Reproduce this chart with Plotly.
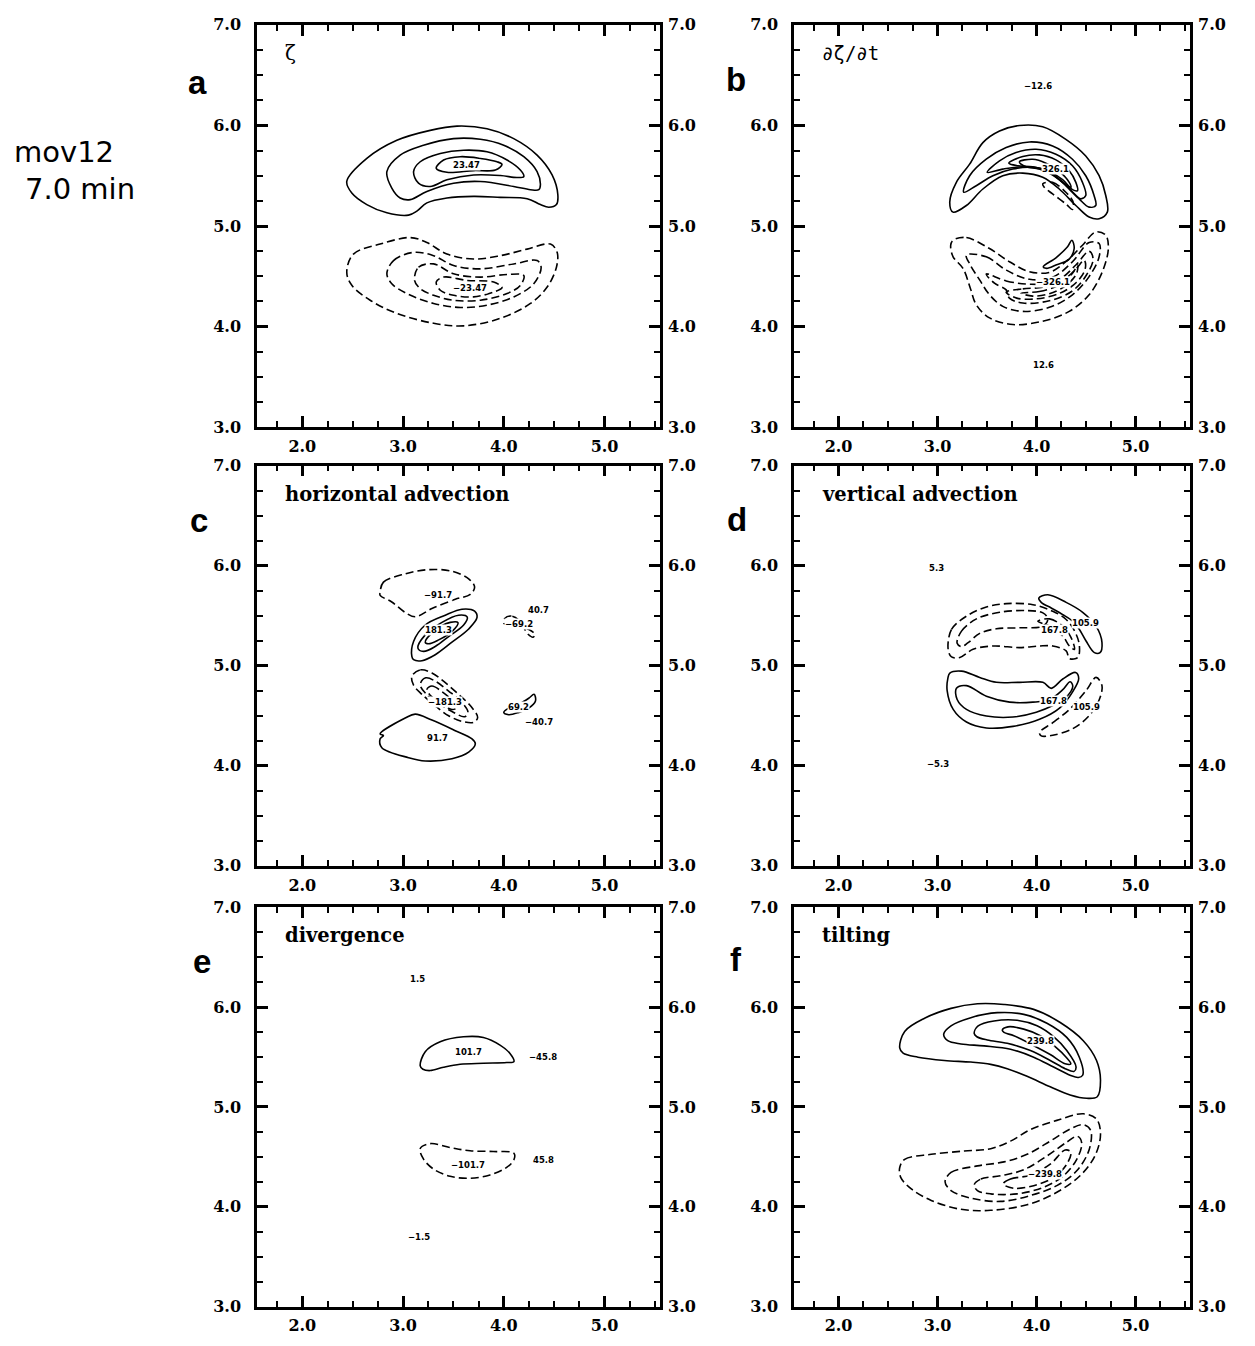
import plotly.graph_objects as go

# ---------------- data: contour polylines (x, y) ----------------
# panel a : zeta
a_pos1 = [(2.441, 5.443), (2.640, 5.672), (2.938, 5.852), (3.269, 5.951), (3.535, 5.993), (3.833, 5.967),
          (4.098, 5.869), (4.330, 5.705), (4.479, 5.508), (4.536, 5.311), (4.522, 5.213), (4.446, 5.187),
          (4.363, 5.213), (4.231, 5.272), (3.966, 5.285), (3.700, 5.295), (3.435, 5.279), (3.236, 5.230),
          (3.137, 5.148), (3.054, 5.108), (2.839, 5.131), (2.640, 5.213), (2.491, 5.328)]
a_pos2 = [(2.839, 5.541), (2.971, 5.705), (3.203, 5.803), (3.501, 5.869), (3.767, 5.862), (3.999, 5.803),
          (4.198, 5.689), (4.330, 5.541), (4.363, 5.410), (4.347, 5.361), (4.264, 5.361), (4.098, 5.393),
          (3.767, 5.443), (3.501, 5.426), (3.236, 5.344), (3.071, 5.262), (2.971, 5.279), (2.888, 5.377)]
a_pos3 = [(3.104, 5.541), (3.170, 5.639), (3.369, 5.721), (3.601, 5.754), (3.833, 5.738), (4.032, 5.656),
          (4.164, 5.557), (4.198, 5.492), (4.131, 5.482), (3.966, 5.502), (3.700, 5.508), (3.435, 5.459),
          (3.269, 5.393), (3.153, 5.426)]
a_pos4 = [(3.329, 5.574), (3.402, 5.656), (3.568, 5.689), (3.767, 5.672), (3.932, 5.639), (3.982, 5.613),
          (3.916, 5.557), (3.700, 5.551), (3.435, 5.534)]
a_neg1 = [(2.441, 4.541), (2.507, 4.721), (2.772, 4.820), (3.071, 4.885), (3.236, 4.836), (3.435, 4.721),
          (3.700, 4.672), (3.966, 4.705), (4.231, 4.770), (4.463, 4.820), (4.529, 4.738), (4.522, 4.590),
          (4.430, 4.393), (4.264, 4.230), (3.966, 4.082), (3.601, 4.007), (3.303, 4.033), (2.938, 4.131),
          (2.673, 4.262), (2.491, 4.410)]
a_neg2 = [(2.839, 4.525), (2.905, 4.656), (3.104, 4.738), (3.303, 4.705), (3.501, 4.607), (3.767, 4.574),
          (4.098, 4.623), (4.330, 4.656), (4.370, 4.590), (4.297, 4.426), (4.098, 4.295), (3.833, 4.213),
          (3.568, 4.190), (3.303, 4.230), (3.037, 4.328), (2.888, 4.426)]
a_neg3 = [(3.114, 4.459), (3.153, 4.590), (3.303, 4.623), (3.501, 4.525), (3.767, 4.492), (4.032, 4.518),
          (4.198, 4.508), (4.164, 4.410), (4.032, 4.328), (3.767, 4.262), (3.501, 4.262), (3.303, 4.311),
          (3.170, 4.377)]
a_neg4 = [(3.329, 4.443), (3.402, 4.492), (3.634, 4.459), (3.899, 4.443), (3.982, 4.387), (3.899, 4.344),
          (3.700, 4.295), (3.501, 4.311), (3.369, 4.361)]
a_labels = [("23.47", 3.634, 5.607), ("\u221223.47", 3.667, 4.387)]

# panel b : d zeta / dt
b_pos1 = [(3.157, 5.138), (3.123, 5.237), (3.190, 5.434), (3.324, 5.615), (3.458, 5.829), (3.626, 5.944),
          (3.827, 6.000), (4.062, 5.987), (4.296, 5.862), (4.497, 5.697), (4.632, 5.500), (4.699, 5.303),
          (4.715, 5.138), (4.632, 5.072), (4.531, 5.089), (4.397, 5.204), (4.229, 5.368), (4.062, 5.484),
          (3.861, 5.526), (3.659, 5.500), (3.458, 5.368), (3.291, 5.204)]
b_pos2 = [(3.264, 5.336), (3.324, 5.500), (3.492, 5.664), (3.693, 5.780), (3.928, 5.836), (4.162, 5.796),
          (4.363, 5.664), (4.497, 5.500), (4.581, 5.303), (4.598, 5.204), (4.531, 5.188), (4.430, 5.270),
          (4.296, 5.401), (4.129, 5.533), (3.961, 5.582), (3.760, 5.566), (3.559, 5.500), (3.391, 5.401)]
b_pos3 = [(3.502, 5.533), (3.626, 5.648), (3.793, 5.730), (3.995, 5.763), (4.196, 5.714), (4.363, 5.599),
          (4.464, 5.434), (4.497, 5.303), (4.447, 5.270), (4.363, 5.336), (4.229, 5.467), (4.062, 5.566),
          (3.861, 5.589), (3.659, 5.566)]
b_pos4 = [(3.720, 5.625), (3.861, 5.691), (4.028, 5.707), (4.196, 5.658), (4.330, 5.549), (4.397, 5.434),
          (4.414, 5.352), (4.363, 5.362), (4.263, 5.461), (4.129, 5.543), (3.961, 5.589), (3.810, 5.599)]
b_pos5 = [(3.827, 5.638), (3.961, 5.664), (4.095, 5.625), (4.229, 5.543), (4.330, 5.434), (4.347, 5.385),
          (4.280, 5.424), (4.162, 5.507), (4.028, 5.566), (3.894, 5.589)]
b_pos6 = [(4.068, 4.595), (4.196, 4.684), (4.313, 4.793), (4.357, 4.859), (4.380, 4.776), (4.330, 4.671),
          (4.196, 4.612), (4.102, 4.579)]
b_neg0 = [(4.062, 5.418), (4.162, 5.434), (4.296, 5.336), (4.370, 5.237), (4.363, 5.164), (4.296, 5.220),
          (4.162, 5.319), (4.078, 5.385)]
b_neg1 = [(3.157, 4.859), (3.291, 4.885), (3.525, 4.776), (3.726, 4.645), (3.928, 4.546), (4.129, 4.539),
          (4.296, 4.645), (4.464, 4.809), (4.598, 4.941), (4.699, 4.908), (4.725, 4.776), (4.665, 4.546),
          (4.531, 4.316), (4.330, 4.151), (4.062, 4.053), (3.760, 4.020), (3.525, 4.086), (3.391, 4.217),
          (3.331, 4.382), (3.257, 4.579), (3.157, 4.694), (3.133, 4.809)]
b_neg2 = [(3.291, 4.711), (3.492, 4.694), (3.693, 4.562), (3.928, 4.470), (4.162, 4.490), (4.363, 4.645),
          (4.531, 4.836), (4.632, 4.826), (4.632, 4.694), (4.531, 4.497), (4.363, 4.316), (4.129, 4.191),
          (3.861, 4.151), (3.659, 4.201), (3.525, 4.316), (3.425, 4.464), (3.331, 4.612)]
b_neg3 = [(3.492, 4.523), (3.693, 4.454), (3.928, 4.421), (4.196, 4.447), (4.397, 4.612), (4.531, 4.750),
          (4.571, 4.671), (4.504, 4.513), (4.363, 4.355), (4.129, 4.257), (3.861, 4.234), (3.726, 4.283),
          (3.693, 4.365), (3.575, 4.431)]
b_neg4 = [(3.693, 4.342), (3.861, 4.375), (4.062, 4.391), (4.263, 4.457), (4.397, 4.572), (4.481, 4.661),
          (4.491, 4.572), (4.404, 4.441), (4.236, 4.332), (4.001, 4.276), (3.800, 4.283)]
b_neg5 = [(3.844, 4.332), (4.028, 4.349), (4.229, 4.414), (4.363, 4.530), (4.414, 4.612), (4.404, 4.526),
          (4.296, 4.408), (4.129, 4.326), (3.961, 4.303)]
b_labels = [("326.1", 4.196, 5.566), ("\u2212326.1", 4.162, 4.441), ("\u221212.6", 4.011, 6.388),
            ("12.6", 4.068, 3.618)]

# panel c : horizontal advection
c_pos1 = [(3.087, 5.093), (3.104, 5.242), (3.220, 5.407), (3.419, 5.505), (3.584, 5.565), (3.710, 5.545),
          (3.734, 5.482), (3.651, 5.367), (3.485, 5.235), (3.319, 5.110), (3.187, 5.050), (3.104, 5.060)]
c_pos2 = [(3.147, 5.176), (3.220, 5.308), (3.386, 5.433), (3.551, 5.505), (3.637, 5.486), (3.601, 5.407),
          (3.452, 5.291), (3.319, 5.192), (3.203, 5.143)]
c_pos3 = [(3.220, 5.235), (3.303, 5.341), (3.468, 5.433), (3.545, 5.430), (3.485, 5.341), (3.353, 5.258),
          (3.253, 5.219)]
c_pos4 = [(3.120, 4.516), (3.286, 4.457), (3.518, 4.351), (3.684, 4.269), (3.717, 4.220), (3.651, 4.137),
          (3.485, 4.071), (3.220, 4.048), (3.054, 4.081), (2.789, 4.180), (2.772, 4.269), (2.805, 4.302),
          (2.772, 4.319), (3.021, 4.477)]
c_pos5 = [(3.999, 4.533), (4.048, 4.576), (4.148, 4.615), (4.247, 4.675), (4.300, 4.714), (4.314, 4.648),
          (4.247, 4.576), (4.148, 4.533), (4.048, 4.510)]
c_neg1 = [(2.772, 5.736), (2.805, 5.835), (3.021, 5.918), (3.253, 5.960), (3.485, 5.944), (3.651, 5.868),
          (3.710, 5.786), (3.667, 5.713), (3.518, 5.664), (3.286, 5.571), (3.120, 5.489), (3.021, 5.532),
          (2.888, 5.637), (2.772, 5.703)]
c_neg2 = [(3.087, 4.895), (3.170, 4.958), (3.286, 4.928), (3.419, 4.830), (3.551, 4.714), (3.677, 4.589),
          (3.740, 4.483), (3.700, 4.434), (3.584, 4.444), (3.452, 4.500), (3.319, 4.599), (3.187, 4.714),
          (3.104, 4.806)]
c_neg3 = [(3.170, 4.813), (3.226, 4.879), (3.319, 4.846), (3.452, 4.747), (3.584, 4.632), (3.644, 4.533),
          (3.611, 4.490), (3.485, 4.543), (3.353, 4.622), (3.237, 4.708)]
c_neg4 = [(3.237, 4.764), (3.286, 4.797), (3.386, 4.741), (3.492, 4.648), (3.535, 4.582), (3.485, 4.562),
          (3.386, 4.622), (3.286, 4.688)]
c_neg5 = [(4.148, 5.456), (4.075, 5.496), (4.009, 5.472), (3.999, 5.423), (4.082, 5.413), (4.181, 5.387),
          (4.274, 5.347), (4.307, 5.314), (4.290, 5.285), (4.241, 5.314)]
c_labels = [("\u221291.7", 3.346, 5.710), ("181.3", 3.353, 5.357), ("\u2212181.3", 3.419, 4.638),
            ("91.7", 3.346, 4.279), ("\u221269.2", 4.154, 5.413), ("40.7", 4.347, 5.561),
            ("69.2", 4.148, 4.589), ("\u221240.7", 4.353, 4.434)]

# panel d : vertical advection
d_pos1 = [(4.023, 5.676), (4.114, 5.709), (4.299, 5.633), (4.466, 5.534), (4.601, 5.395), (4.661, 5.230),
          (4.641, 5.131), (4.584, 5.131), (4.500, 5.247), (4.433, 5.362), (4.366, 5.445), (4.265, 5.511),
          (4.148, 5.577), (4.047, 5.633)]
d_pos2 = [(3.124, 4.926), (3.242, 4.946), (3.426, 4.883), (3.594, 4.834), (3.829, 4.834), (4.064, 4.834),
          (4.148, 4.774), (4.265, 4.867), (4.393, 4.933), (4.426, 4.873), (4.366, 4.741), (4.232, 4.576),
          (4.030, 4.464), (3.762, 4.394), (3.493, 4.378), (3.292, 4.437), (3.158, 4.563), (3.097, 4.751),
          (3.104, 4.873)]
d_pos3 = [(3.191, 4.774), (3.292, 4.801), (3.493, 4.695), (3.728, 4.636), (3.963, 4.636), (4.131, 4.662),
          (4.265, 4.761), (4.339, 4.840), (4.366, 4.794), (4.299, 4.685), (4.164, 4.603), (3.997, 4.536),
          (3.762, 4.487), (3.493, 4.497), (3.292, 4.563), (3.198, 4.662)]
d_neg1 = [(3.107, 5.164), (3.141, 5.362), (3.292, 5.495), (3.493, 5.587), (3.695, 5.620), (3.963, 5.610),
          (4.164, 5.544), (4.299, 5.462), (4.393, 5.329), (4.433, 5.197), (4.416, 5.082), (4.332, 5.072),
          (4.299, 5.148), (4.164, 5.197), (4.030, 5.197), (3.829, 5.181), (3.560, 5.197), (3.359, 5.164),
          (3.225, 5.082), (3.141, 5.088)]
d_neg2 = [(3.198, 5.224), (3.242, 5.346), (3.393, 5.468), (3.628, 5.534), (3.896, 5.551), (4.064, 5.528),
          (4.114, 5.468), (4.064, 5.395), (3.829, 5.379), (3.594, 5.369), (3.426, 5.323), (3.309, 5.230),
          (3.242, 5.191)]
d_neg3 = [(4.013, 5.445), (4.131, 5.468), (4.265, 5.395), (4.349, 5.280), (4.383, 5.164), (4.332, 5.197),
          (4.265, 5.296), (4.131, 5.395)]
d_neg4 = [(4.030, 4.332), (4.164, 4.431), (4.332, 4.563), (4.500, 4.751), (4.601, 4.883), (4.661, 4.801),
          (4.634, 4.662), (4.534, 4.503), (4.366, 4.371), (4.164, 4.305), (4.047, 4.299)]
d_labels = [("167.8", 4.185, 5.352), ("105.9", 4.495, 5.425), ("167.8", 4.175, 4.645),
            ("105.9", 4.505, 4.590), ("5.3", 2.990, 5.974), ("\u22125.3", 3.007, 4.018)]

# panel e : divergence
e_pos1 = [(3.170, 5.411), (3.220, 5.553), (3.368, 5.652), (3.599, 5.702), (3.797, 5.695), (3.962, 5.619),
          (4.061, 5.536), (4.100, 5.454), (4.028, 5.444), (3.797, 5.437), (3.566, 5.427), (3.401, 5.397),
          (3.269, 5.364), (3.197, 5.377)]
e_neg1 = [(3.170, 4.583), (3.269, 4.632), (3.467, 4.593), (3.665, 4.560), (3.896, 4.553), (4.100, 4.536),
          (4.100, 4.470), (4.028, 4.394), (3.863, 4.318), (3.665, 4.285), (3.467, 4.305), (3.302, 4.377),
          (3.203, 4.477)]
e_labels = [("101.7", 3.649, 5.550), ("\u221245.8", 4.390, 5.503), ("\u2212101.7", 3.649, 4.417),
            ("45.8", 4.390, 4.470), ("1.5", 3.144, 6.278), ("\u22121.5", 3.154, 3.699)]

# panel f : tilting
f_pos1 = [(2.618, 5.591), (2.668, 5.756), (2.869, 5.888), (3.136, 5.987), (3.403, 6.033), (3.671, 6.026),
          (3.971, 5.977), (4.239, 5.845), (4.472, 5.663), (4.606, 5.465), (4.646, 5.267), (4.613, 5.102),
          (4.506, 5.086), (4.339, 5.119), (4.138, 5.201), (3.904, 5.307), (3.704, 5.383), (3.537, 5.426),
          (3.336, 5.449), (3.069, 5.465), (2.802, 5.498), (2.652, 5.538)]
f_pos2 = [(3.062, 5.729), (3.136, 5.812), (3.336, 5.894), (3.604, 5.944), (3.871, 5.927), (4.105, 5.838),
          (4.305, 5.696), (4.432, 5.498), (4.466, 5.317), (4.422, 5.294), (4.339, 5.317), (4.172, 5.399),
          (3.971, 5.498), (3.737, 5.578), (3.470, 5.611), (3.236, 5.630), (3.103, 5.663)]
f_pos3 = [(3.370, 5.736), (3.410, 5.812), (3.570, 5.861), (3.804, 5.868), (4.005, 5.812), (4.172, 5.703),
          (4.305, 5.564), (4.399, 5.399), (4.379, 5.356), (4.289, 5.383), (4.138, 5.465), (3.938, 5.564),
          (3.704, 5.637), (3.503, 5.670), (3.397, 5.703)]
f_pos4 = [(3.654, 5.769), (3.711, 5.802), (3.871, 5.779), (4.038, 5.713), (4.188, 5.604), (4.299, 5.498),
          (4.346, 5.432), (4.289, 5.432), (4.138, 5.525), (3.971, 5.614), (3.771, 5.713), (3.671, 5.746)]
f_neg1 = [(2.618, 4.393), (2.668, 4.475), (2.936, 4.525), (3.270, 4.558), (3.537, 4.581), (3.737, 4.657),
          (3.938, 4.772), (4.205, 4.865), (4.472, 4.931), (4.606, 4.878), (4.646, 4.723), (4.589, 4.508),
          (4.439, 4.310), (4.205, 4.145), (3.904, 4.020), (3.537, 3.964), (3.236, 3.974), (2.936, 4.063),
          (2.735, 4.178), (2.628, 4.294)]
f_neg2 = [(3.076, 4.251), (3.136, 4.343), (3.403, 4.409), (3.671, 4.449), (3.904, 4.525), (4.138, 4.657),
          (4.339, 4.779), (4.472, 4.822), (4.546, 4.766), (4.532, 4.574), (4.406, 4.360), (4.205, 4.211),
          (3.938, 4.112), (3.637, 4.053), (3.336, 4.086), (3.136, 4.162)]
f_neg3 = [(3.370, 4.218), (3.437, 4.277), (3.637, 4.310), (3.871, 4.370), (4.105, 4.508), (4.305, 4.647),
          (4.412, 4.706), (4.456, 4.640), (4.406, 4.475), (4.272, 4.310), (4.071, 4.195), (3.804, 4.129),
          (3.537, 4.129), (3.403, 4.162)]
f_neg4 = [(3.664, 4.228), (3.737, 4.277), (3.938, 4.317), (4.138, 4.426), (4.289, 4.568), (4.346, 4.548),
          (4.305, 4.426), (4.172, 4.294), (3.971, 4.211), (3.771, 4.185)]
f_labels = [("239.8", 4.038, 5.663), ("\u2212239.8", 4.088, 4.327)]

panel_letters = ["a", "b", "c", "d", "e", "f"]
panel_titles = ["\u03b6", "\u2202\u03b6/\u2202t", "horizontal advection", "vertical advection",
                "divergence", "tilting"]
x_ticks = [2.0, 3.0, 4.0, 5.0]
y_ticks = [3.0, 4.0, 5.0, 6.0, 7.0]
run_label = ["mov12", "7.0 min"]

pos_sets = [[a_pos1, a_pos2, a_pos3, a_pos4],
            [b_pos1, b_pos2, b_pos3, b_pos4, b_pos5, b_pos6],
            [c_pos1, c_pos2, c_pos3, c_pos4, c_pos5],
            [d_pos1, d_pos2, d_pos3],
            [e_pos1],
            [f_pos1, f_pos2, f_pos3, f_pos4]]
neg_sets = [[a_neg1, a_neg2, a_neg3, a_neg4],
            [b_neg0, b_neg1, b_neg2, b_neg3, b_neg4, b_neg5],
            [c_neg1, c_neg2, c_neg3, c_neg4, c_neg5],
            [d_neg1, d_neg2, d_neg3, d_neg4],
            [e_neg1],
            [f_neg1, f_neg2, f_neg3, f_neg4]]
label_sets = [a_labels, b_labels, c_labels, d_labels, e_labels, f_labels]

# ---------------- layout geometry (pixels of the 1255 x 1346 page) ----------------
W, H = 1255, 1346
OFF = 8  # the page body adds an 8 px margin around the figure
col_px = [(257, 660), (794, 1190)]
row_px = [(16, 424), (463, 869), (911, 1316)]
XR = [1.55, 5.55]
YR = [3.0, 7.0]


def px(x):
    return (x - OFF) / W


def py(y):
    return 1 - (y - OFF) / H


fig = go.Figure()
layout = dict(width=W, height=H, margin=dict(l=0, r=0, t=0, b=0),
              paper_bgcolor="white", plot_bgcolor="white", showlegend=False)
annotations = []

tickfont = dict(family="DejaVu Serif", size=16, color="black", weight="bold")

for i in range(6):
    n = i + 1
    r, c = divmod(i, 2)
    x0, x1 = col_px[c]
    t0, t1 = row_px[r]
    xd = [px(x0), px(x1)]
    yd = [py(t1), py(t0)]
    xa, ya, ya2 = f"x{n}", f"y{n}", f"y{n + 6}"

    common = dict(showgrid=False, zeroline=False, showline=True, linecolor="black", linewidth=2.5,
                  ticks="inside", ticklen=11, tickwidth=2.5, tickcolor="black", mirror="ticks",
                  tickformat=".1f", tickfont=tickfont, fixedrange=True,
                  minor=dict(dtick=0.25, tick0=0, ticks="inside", ticklen=6, tickwidth=1.5,
                             tickcolor="black", showgrid=False))
    layout[f"xaxis{n}"] = dict(domain=xd, anchor=ya, range=XR, tickmode="array", tickvals=x_ticks,
                               ticklabelstandoff=3, **common)
    layout[f"yaxis{n}"] = dict(domain=yd, anchor=xa, range=YR, tickmode="array", tickvals=y_ticks,
                               ticklabelstandoff=10, **common)
    layout[f"yaxis{n + 6}"] = dict(overlaying=ya, anchor=xa, side="right", range=YR, tickmode="array",
                                   tickvals=y_ticks, tickformat=".1f", tickfont=tickfont, ticks="",
                                   showline=False, showgrid=False, zeroline=False,
                                   ticklabelstandoff=7, fixedrange=True)
    fig.add_trace(go.Scatter(x=[None], y=[None], xaxis=xa, yaxis=ya2, mode="lines",
                             hoverinfo="skip", showlegend=False))

    for cont in pos_sets[i]:
        pts = cont + [cont[0]]
        fig.add_trace(go.Scatter(x=[p[0] for p in pts], y=[p[1] for p in pts], xaxis=xa, yaxis=ya,
                                 mode="lines", line=dict(color="black", width=1.6, shape="spline",
                                                         smoothing=1.0),
                                 hoverinfo="skip", showlegend=False))
    for cont in neg_sets[i]:
        pts = cont + [cont[0]]
        fig.add_trace(go.Scatter(x=[p[0] for p in pts], y=[p[1] for p in pts], xaxis=xa, yaxis=ya,
                                 mode="lines", line=dict(color="black", width=1.6, shape="spline",
                                                         smoothing=1.0, dash="8px,4px"),
                                 hoverinfo="skip", showlegend=False))
    for txt, lx, ly in label_sets[i]:
        annotations.append(dict(x=lx, y=ly, xref=xa, yref=ya, text=txt, showarrow=False,
                                font=dict(family="DejaVu Sans", size=8.5, color="black", weight="bold"),
                                bgcolor="white", borderpad=0, xanchor="center", yanchor="middle"))

    # panel title inside the frame
    title_font = dict(family="DejaVu Serif", size=19.5, color="black", weight="bold")
    if i == 0:
        title_font = dict(family="DejaVu Serif", size=20, color="black")
    elif i == 1:
        title_font = dict(family="DejaVu Sans Mono", size=19, color="black")
    annotations.append(dict(x=px(x0 + 26), y=py(t0 + 29), xref="paper", yref="paper",
                            text=panel_titles[i], showarrow=False, font=title_font,
                            xanchor="left", yanchor="middle"))

# panel letters
letter_pos = [(197, 74), (736, 71), (199, 519), (737, 518), (202, 966), (736, 964)]
for (lx, ly), letter in zip(letter_pos, panel_letters):
    annotations.append(dict(x=px(lx), y=py(ly), xref="paper", yref="paper", text=letter,
                            showarrow=False, xanchor="center", yanchor="middle",
                            font=dict(family="Liberation Sans", size=33, color="black", weight="bold")))

# run label
annotations.append(dict(x=px(12), y=py(145), xref="paper", yref="paper", text=run_label[0],
                        showarrow=False, xanchor="left", yanchor="middle",
                        font=dict(family="DejaVu Sans", size=29, color="black")))
annotations.append(dict(x=px(23), y=py(182), xref="paper", yref="paper", text=run_label[1],
                        showarrow=False, xanchor="left", yanchor="middle",
                        font=dict(family="DejaVu Sans", size=29, color="black")))

layout["annotations"] = annotations
fig.update_layout(**layout)
fig.write_html("out.html")
